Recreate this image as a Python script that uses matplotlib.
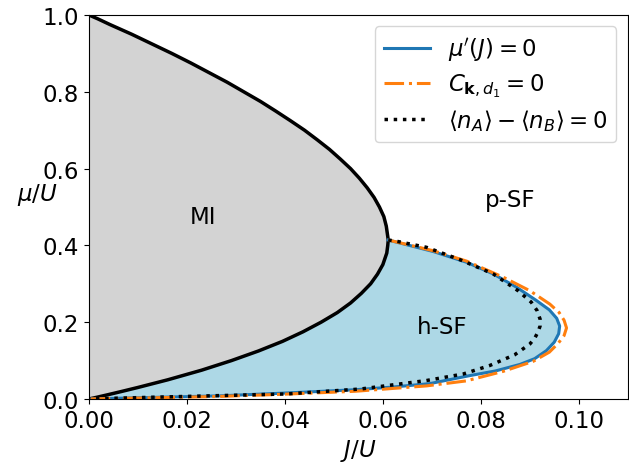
import numpy as np
import matplotlib
matplotlib.use("Agg")
import matplotlib.pyplot as plt

# fronteira do lobo MI
mu_mi = [0.0, 0.005, 0.01, 0.02, 0.03, 0.05, 0.075, 0.1, 0.125, 0.15, 0.175, 0.2, 0.225, 0.25,
         0.275, 0.3, 0.325, 0.35, 0.38, 0.4, 0.414, 0.45, 0.475, 0.5, 0.525, 0.55, 0.575, 0.6,
         0.625, 0.65, 0.675, 0.7, 0.725, 0.75, 0.775, 0.8, 0.825, 0.85, 0.875, 0.9, 0.925,
         0.95, 0.975, 0.99, 0.995, 1.0]
J_mi = [0.0, 0.0018, 0.0035, 0.0068, 0.0100, 0.0161, 0.0230, 0.0291, 0.0346, 0.0395, 0.0437,
        0.0474, 0.0507, 0.0534, 0.0556, 0.0575, 0.0589, 0.0600, 0.0608, 0.0610, 0.0611, 0.0607,
        0.0602, 0.0593, 0.0582, 0.0568, 0.0552, 0.0534, 0.0513, 0.0491, 0.0466, 0.0440, 0.0411,
        0.0381, 0.0350, 0.0316, 0.0282, 0.0245, 0.0208, 0.0169, 0.0128, 0.0087, 0.0043, 0.0018,
        0.0009, 0.0]

# mu'(J) = 0  (da ponta do MI ate a origem)
J_blue = [0.0611, 0.0703, 0.0771, 0.0825, 0.0873, 0.0914, 0.0940, 0.0955, 0.0961, 0.0959,
          0.0950, 0.0934, 0.0910, 0.0880, 0.0830, 0.0778, 0.0696, 0.0620, 0.0543, 0.0390,
          0.0264, 0.0128, 0.0]
mu_blue = [0.414, 0.384, 0.356, 0.326, 0.291, 0.256, 0.232, 0.210, 0.190, 0.170,
           0.148, 0.126, 0.105, 0.090, 0.073, 0.061, 0.040, 0.031, 0.024, 0.0148,
           0.008, 0.004, 0.0]

# C_{k,d1} = 0
J_orange = [0.0611, 0.0703, 0.0771, 0.0846, 0.0900, 0.0941, 0.0960, 0.0970, 0.0975, 0.0970,
            0.0958, 0.0940, 0.0907, 0.0846, 0.0770, 0.0689, 0.0543, 0.0390, 0.0264, 0.0128, 0.0]
mu_orange = [0.414, 0.386, 0.359, 0.317, 0.282, 0.247, 0.225, 0.205, 0.185, 0.165,
             0.145, 0.122, 0.098, 0.072, 0.047, 0.034, 0.020, 0.012, 0.0065, 0.003, 0.0]

# <n_A> - <n_B> = 0
J_dot = [0.0611, 0.0631, 0.0689, 0.0757, 0.0825, 0.0876, 0.0903, 0.0915, 0.0921, 0.0921,
         0.0917, 0.0910, 0.0900, 0.0869, 0.0818, 0.0764, 0.0689, 0.0555, 0.0403, 0.0264,
         0.0128, 0.0]
mu_dot = [0.414, 0.410, 0.395, 0.363, 0.326, 0.282, 0.252, 0.230, 0.208, 0.190,
          0.175, 0.158, 0.143, 0.115, 0.087, 0.065, 0.048, 0.026, 0.013, 0.0087,
          0.0044, 0.0]

plt.rcParams['font.size'] = 16.5

fig = plt.figure(figsize=(6.29, 4.64), dpi=100)
ax = fig.add_axes([0.1415, 0.138, 0.8565, 0.8275])

# regiao MI
ax.fill_betweenx(mu_mi, 0, J_mi, color='lightgray', lw=0)
# regiao h-SF: curva azul + ramo inferior do MI
low = [i for i, m in enumerate(mu_mi) if m <= 0.414]
poly_x = list(J_blue) + [J_mi[i] for i in low]
poly_y = list(mu_blue) + [mu_mi[i] for i in low]
ax.fill(poly_x, poly_y, color='lightblue', lw=0)

ax.plot(J_mi, mu_mi, color='k', lw=2.5)
ax.plot(J_blue, mu_blue, color='#1f77b4', lw=2.2, label=r"$\mu'(J)=0$")
ax.plot(J_orange, mu_orange, color='#ff7f0e', lw=2.2, ls='-.', label=r"$C_{\mathbf{k},d_1}=0$")
ax.plot(J_dot, mu_dot, color='k', lw=2.5, ls=':', label=r"$\langle n_A\rangle-\langle n_B\rangle=0$")

ax.text(0.0233, 0.475, "MI", ha='center', va='center')
ax.text(0.0859, 0.52, "p-SF", ha='center', va='center')
ax.text(0.0722, 0.19, "h-SF", ha='center', va='center')

ax.set_xlim(0, 0.11)
ax.set_ylim(0, 1.0)
ax.set_xticks([0.0, 0.02, 0.04, 0.06, 0.08, 0.10])
ax.set_xticklabels(["0.00", "0.02", "0.04", "0.06", "0.08", "0.10"])
ax.set_yticks([0.0, 0.2, 0.4, 0.6, 0.8, 1.0])
ax.set_xlabel(r"$J/U$")
ax.set_ylabel(r"$\mu/U$", rotation=0)
ax.legend(loc='upper right', labelspacing=0.35)

fig.savefig("out.png", dpi=100)
